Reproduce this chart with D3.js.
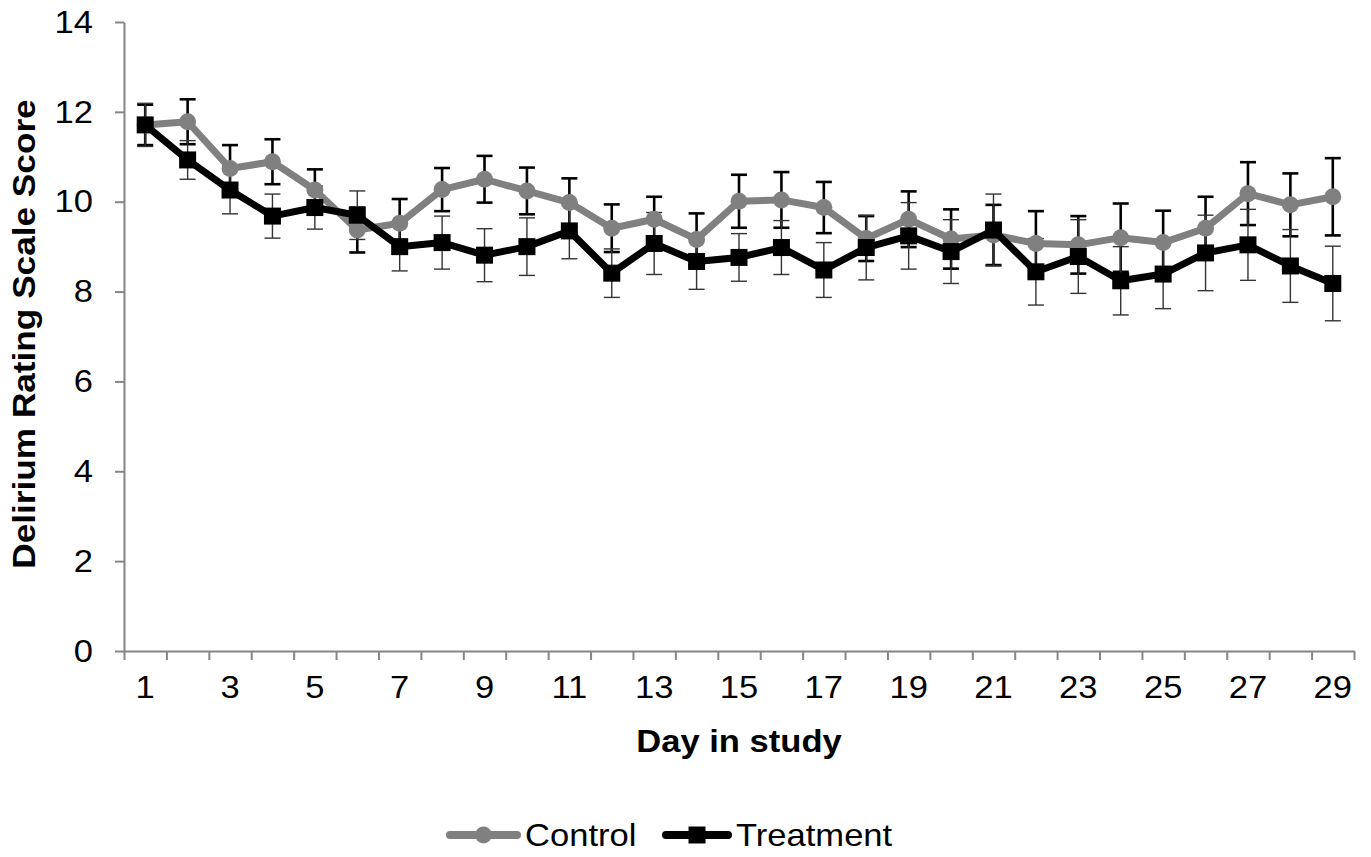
<!DOCTYPE html>
<html lang="en">
<head>
    <meta charset="UTF-8">
    <title>Delirium Rating Scale Score by Day</title>
    <script src="https://d3js.org/d3.v7.min.js"></script>
    <style>
        body, html {
            margin: 0;
            padding: 0;
            overflow: hidden;
            background: #ffffff;
        }
        svg {
            display: block;
            font-family: Arial, "Liberation Sans", sans-serif;
        }
        .axis path, .axis line {
            stroke: #868686;
            stroke-width: 2px;
        }
    </style>
</head>
<body>
    <svg width="1371" height="857"></svg>

    <script>
        // Values
        const days = d3.range(1, 30);
        const control = [11.71, 11.78, 10.74, 10.89, 10.26, 9.37, 9.52, 10.27, 10.50, 10.24, 9.98, 9.41, 9.61, 9.16, 10.01,
                         10.04, 9.87, 9.18, 9.61, 9.17, 9.26, 9.07, 9.04, 9.20, 9.09, 9.41, 10.18, 9.93, 10.11];
        const controlErr = [0.45, 0.50, 0.52, 0.50, 0.46, 0.50, 0.54, 0.48, 0.52, 0.52, 0.54, 0.53, 0.50, 0.58, 0.59,
                            0.62, 0.57, 0.50, 0.62, 0.66, 0.67, 0.72, 0.64, 0.76, 0.71, 0.70, 0.70, 0.70, 0.86];
        const treatment = [11.71, 10.93, 10.26, 9.68, 9.87, 9.70, 9.00, 9.09, 8.81, 9.00, 9.35, 8.41, 9.07, 8.67, 8.76,
                           8.98, 8.48, 8.98, 9.24, 8.89, 9.37, 8.44, 8.78, 8.24, 8.39, 8.86, 9.04, 8.57, 8.18];
        const treatmentErr = [0.48, 0.43, 0.53, 0.49, 0.48, 0.54, 0.54, 0.59, 0.59, 0.64, 0.62, 0.54, 0.69, 0.62, 0.53,
                              0.60, 0.61, 0.72, 0.74, 0.71, 0.80, 0.74, 0.82, 0.76, 0.77, 0.84, 0.79, 0.81, 0.83];
        const yTicks = [0, 2, 4, 6, 8, 10, 12, 14];
        const seriesNames = ["Control", "Treatment"];

        const svg = d3.select("svg");
        const margin = {left: 124, top: 22, right: 17, bottom: 206};
        const width = 1371 - margin.left - margin.right;
        const height = 857 - margin.top - margin.bottom;
        const fs = 32;
        const sx = 1.08; // the figure's text is a bit wider than plain Arial

        const g = svg.append("g").attr("transform", `translate(${margin.left},${margin.top})`);

        const x = d3.scaleBand().domain(days).range([0, width]);
        const xEdge = d3.scaleLinear().domain([0, days.length]).range([0, width]);
        const y = d3.scaleLinear().domain([0, 14]).range([height, 0]);
        const cx = d => x(d) + x.bandwidth() / 2;

        // y axis
        const yAxis = g.append("g").attr("class", "axis")
            .call(d3.axisLeft(y).tickValues(yTicks).tickSize(9).tickSizeOuter(0).tickPadding(22));
        yAxis.selectAll("text")
            .attr("fill", "#000").attr("font-size", fs)
            .attr("x", -31 / sx)
            .attr("transform", `scale(${sx},1)`);

        // x axis: tick marks on category edges, labels on odd days
        g.append("g").attr("class", "axis")
            .attr("transform", `translate(0,${height})`)
            .call(d3.axisBottom(xEdge).tickValues(d3.range(0, days.length + 1)).tickSize(9).tickSizeOuter(0).tickFormat(""));
        const xLab = g.append("g")
            .attr("transform", `translate(0,${height})`)
            .call(d3.axisBottom(x).tickSize(0).tickPadding(24).tickFormat(d => d % 2 === 1 ? d : ""));
        xLab.select(".domain").remove();
        xLab.selectAll("text")
            .attr("fill", "#000").attr("font-size", fs)
            .attr("transform", `scale(${sx},1)`)
            .attr("x", 0);

        // axis titles
        svg.append("text")
            .attr("transform", `translate(739,752) scale(${sx},1)`)
            .attr("text-anchor", "middle")
            .attr("font-size", fs).attr("font-weight", "bold")
            .text("Day in study");
        svg.append("text")
            .attr("transform", `translate(35,334) rotate(-90) scale(1.1,1)`)
            .attr("text-anchor", "middle")
            .attr("font-size", fs).attr("font-weight", "bold")
            .text("Delirium Rating Scale Score");

        const capW = 8;
        function errorBars(vals, errs, color, sw) {
            const eg = g.append("g").attr("stroke", color).attr("stroke-width", sw).attr("fill", "none");
            days.forEach((d, i) => {
                const hi = y(vals[i] + errs[i]), lo = y(vals[i] - errs[i]), xc = cx(d);
                eg.append("line").attr("x1", xc).attr("x2", xc).attr("y1", hi).attr("y2", lo);
                eg.append("line").attr("x1", xc - capW).attr("x2", xc + capW).attr("y1", hi).attr("y2", hi);
                eg.append("line").attr("x1", xc - capW).attr("x2", xc + capW).attr("y1", lo).attr("y2", lo);
            });
        }
        errorBars(control, controlErr, "#000", 2.6);
        errorBars(treatment, treatmentErr, "#333", 1.4);

        const line = d3.line().x((v, i) => cx(days[i])).y(v => y(v));

        // control series
        g.append("path").datum(control)
            .attr("d", line).attr("fill", "none")
            .attr("stroke", "#808080").attr("stroke-width", 7).attr("stroke-linejoin", "round");
        g.selectAll(".cdot").data(control).enter().append("circle")
            .attr("cx", (v, i) => cx(days[i])).attr("cy", v => y(v))
            .attr("r", 8.5).attr("fill", "#808080");

        // treatment series
        g.append("path").datum(treatment)
            .attr("d", line).attr("fill", "none")
            .attr("stroke", "#000").attr("stroke-width", 7).attr("stroke-linejoin", "round");
        const sq = 17;
        g.selectAll(".tsq").data(treatment).enter().append("rect")
            .attr("x", (v, i) => cx(days[i]) - sq / 2).attr("y", v => y(v) - sq / 2)
            .attr("width", sq).attr("height", sq).attr("fill", "#000");

        // legend
        const legend = svg.append("g");
        const legItems = [
            {name: seriesNames[0], x0: 446, x1: 521, color: "#808080", shape: "circle"},
            {name: seriesNames[1], x0: 662, x1: 732, color: "#000", shape: "square"}
        ];
        legItems.forEach(it => {
            const ly = 835, mid = (it.x0 + it.x1) / 2;
            legend.append("line")
                .attr("x1", it.x0 + 4).attr("x2", it.x1 - 4).attr("y1", ly).attr("y2", ly)
                .attr("stroke", it.color).attr("stroke-width", 8).attr("stroke-linecap", "round");
            if (it.shape === "circle") {
                legend.append("circle").attr("cx", mid).attr("cy", ly).attr("r", 8.5).attr("fill", it.color);
            } else {
                legend.append("rect").attr("x", mid - 8.5).attr("y", ly - 8.5)
                    .attr("width", 17).attr("height", 17).attr("fill", it.color);
            }
            legend.append("text")
                .attr("transform", `translate(${it.x1 + 4},846) scale(${sx},1)`)
                .attr("font-size", fs)
                .text(it.name);
        });
    </script>
</body>
</html>
